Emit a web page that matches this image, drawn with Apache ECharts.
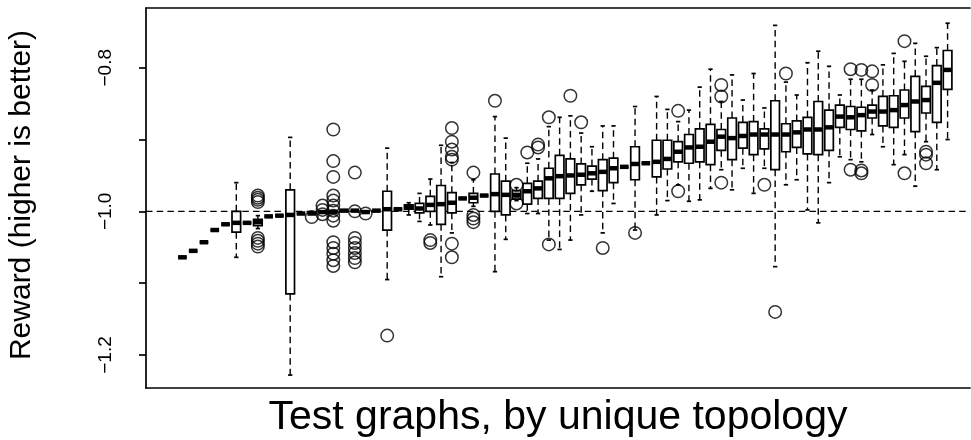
<!DOCTYPE html>
<html>
<head>
<meta charset="utf-8">
<script src="https://cdn.jsdelivr.net/npm/echarts@6/dist/echarts.min.js"></script>
<style>html,body{margin:0;padding:0;background:#fff}#c{width:971px;height:440px}</style>
</head>
<body>
<div id="c"></div>
<script>
// ---- data (one entry per test graph, ordered left to right) ----
const median = [-1.064,-1.055,-1.043,-1.026,-1.018,-1.016,-1.016,-1.015,-1.007,-1.006,
 -1.005,-1.003,-1.003,-1.001,-1.001,-0.999,-0.999,-1.001,-0.999,-0.997,
 -0.997,-0.994,-0.996,-0.991,-0.990,-0.988,-0.982,-0.981,-0.978,-0.976,
 -0.977,-0.977,-0.972,-0.968,-0.954,-0.951,-0.950,-0.949,-0.947,-0.945,
 -0.940,-0.938,-0.934,-0.933,-0.931,-0.927,-0.917,-0.911,-0.910,-0.903,
 -0.896,-0.898,-0.895,-0.893,-0.893,-0.893,-0.893,-0.890,-0.886,-0.886,
 -0.883,-0.868,-0.869,-0.866,-0.861,-0.861,-0.859,-0.852,-0.847,-0.845,
 -0.821,-0.803];
const q3 = [-1.064,-1.055,-1.043,-1.026,-1.018,-1.000,-1.016,-1.011,-1.007,-1.006,
 -0.970,-1.003,-1.003,-1.001,-1.001,-0.999,-0.999,-1.001,-0.999,-0.972,
 -0.997,-0.991,-0.989,-0.979,-0.964,-0.974,-0.982,-0.975,-0.978,-0.948,
 -0.958,-0.971,-0.961,-0.958,-0.940,-0.922,-0.927,-0.934,-0.937,-0.928,
 -0.926,-0.938,-0.910,-0.933,-0.901,-0.901,-0.903,-0.893,-0.885,-0.879,
 -0.886,-0.870,-0.876,-0.875,-0.885,-0.846,-0.878,-0.874,-0.869,-0.847,
 -0.859,-0.852,-0.854,-0.855,-0.852,-0.840,-0.839,-0.831,-0.812,-0.826,
 -0.797,-0.776];
const q1 = [-1.064,-1.055,-1.043,-1.026,-1.018,-1.029,-1.016,-1.020,-1.007,-1.006,
 -1.115,-1.003,-1.003,-1.001,-1.001,-0.999,-0.999,-1.001,-0.999,-1.026,
 -0.997,-0.997,-1.002,-1.000,-1.018,-1.002,-0.982,-0.988,-0.978,-1.000,
 -1.005,-0.983,-0.990,-0.982,-0.982,-0.982,-0.975,-0.963,-0.955,-0.971,
 -0.960,-0.938,-0.956,-0.933,-0.952,-0.941,-0.931,-0.933,-0.931,-0.935,
 -0.915,-0.928,-0.912,-0.921,-0.913,-0.942,-0.917,-0.911,-0.920,-0.921,
 -0.915,-0.883,-0.886,-0.888,-0.870,-0.881,-0.883,-0.870,-0.889,-0.863,
 -0.876,-0.830];
const highWhisker = [-1.064,-1.055,-1.043,-1.026,-1.018,-0.960,-1.016,-1.006,-1.007,-1.006,
 -0.897,-1.003,-1.003,-1.001,-1.001,-0.999,-0.999,-1.001,-0.999,-0.912,
 -0.997,-0.988,-0.975,-0.955,-0.908,-0.932,-0.982,-0.956,-0.978,-0.868,
 -0.898,-0.967,-0.933,-0.927,-0.882,-0.869,-0.867,-0.891,-0.910,-0.881,
 -0.881,-0.938,-0.854,-0.933,-0.840,-0.858,-0.875,-0.859,-0.827,-0.802,
 -0.847,-0.810,-0.845,-0.808,-0.856,-0.741,-0.820,-0.838,-0.793,-0.777,
 -0.798,-0.838,-0.816,-0.816,-0.831,-0.796,-0.780,-0.791,-0.766,-0.784,
 -0.772,-0.738];
const lowWhisker = [-1.064,-1.055,-1.043,-1.026,-1.018,-1.064,-1.016,-1.024,-1.007,-1.006,
 -1.228,-1.003,-1.003,-1.001,-1.001,-0.999,-0.999,-1.001,-0.999,-1.095,
 -0.997,-1.005,-1.014,-1.019,-1.091,-1.030,-0.982,-0.993,-0.978,-1.084,
 -1.039,-0.985,-1.003,-1.003,-1.040,-1.053,-1.040,-1.005,-0.972,-1.030,
 -0.989,-0.938,-1.026,-0.933,-1.005,-0.985,-0.963,-0.986,-0.984,-0.968,
 -0.942,-0.970,-0.940,-0.975,-0.940,-1.077,-0.963,-0.956,-0.998,-1.016,
 -0.960,-0.924,-0.928,-0.931,-0.893,-0.910,-0.935,-0.921,-0.965,-0.903,
 -0.942,-0.900];
// outliers: [graph number, reward]
const outliers = [
 [8,-0.978],[8,-0.981],[8,-0.984],[8,-0.987],[8,-1.037],[8,-1.041],[8,-1.045],[8,-1.049],
 [13,-1.008],
 [14,-0.992],[14,-0.998],[14,-1.004],
 [15,-0.886],[15,-0.930],[15,-0.952],[15,-0.978],[15,-0.985],[15,-0.992],[15,-0.999],[15,-1.006],
 [15,-1.013],[15,-1.043],[15,-1.051],[15,-1.059],[15,-1.068],[15,-1.076],
 [17,-0.946],[17,-1.000],[17,-1.037],[17,-1.044],[17,-1.051],[17,-1.058],[17,-1.065],[17,-1.071],
 [18,-1.003],
 [20,-1.173],
 [24,-1.040],[24,-1.044],
 [26,-0.884],[26,-0.903],[26,-0.914],[26,-0.924],[26,-0.928],[26,-1.045],[26,-1.064],
 [28,-0.946],[28,-1.005],[28,-1.010],[28,-1.015],
 [30,-0.846],
 [32,-0.963],[32,-0.989],
 [33,-0.918],
 [34,-0.907],[34,-0.911],
 [35,-0.869],[35,-1.046],
 [37,-0.839],
 [38,-0.876],
 [40,-1.051],
 [43,-1.030],
 [47,-0.860],[47,-0.972],
 [51,-0.824],[51,-0.840],[51,-0.960],
 [55,-0.963],
 [56,-1.140],
 [57,-0.808],
 [63,-0.802],[63,-0.942],
 [64,-0.803],[64,-0.943],[64,-0.947],
 [65,-0.805],[65,-0.824],
 [68,-0.763],[68,-0.947],
 [70,-0.917],[70,-0.921],[70,-0.933]
];
const referenceLevel = -1.0;
const yTickValues = [-1.2,-1.1,-1.0,-0.9,-0.8];
const yLabelValues = [-1.2,-1.0,-0.8];
const xTitle = 'Test graphs, by unique topology';
const yTitle = 'Reward (higher is better)';

// ---- build ----
const n = median.length;
const boxData = median.map((m, i) => [i + 1, lowWhisker[i], q1[i], m, q3[i], highWhisker[i]]);
// x range: R's boxplot range starts at 0.5 - 4%; the right side of the original figure is cropped
const xMin = 0.5 - 0.04 * n;
const xVisibleMax = 74.08;
const FONT = '"Liberation Sans", Arial, Helvetica, sans-serif';
const DASH = [6.5, 4.2];
const LW = 1.7;

function renderBox(params, api) {
  const x = api.value(0);
  const pL = api.coord([x, api.value(1)]);
  const p1 = api.coord([x, api.value(2)]);
  const pM = api.coord([x, api.value(3)]);
  const p3 = api.coord([x, api.value(4)]);
  const pH = api.coord([x, api.value(5)]);
  const bw = api.size([0.8, 0])[0];
  const cx = pM[0];
  const stroke = '#000';
  return {
    type: 'group',
    children: [
      { type: 'line', shape: { x1: cx, y1: p3[1], x2: cx, y2: pH[1] }, style: { stroke, lineWidth: 1.4, lineDash: DASH } },
      { type: 'line', shape: { x1: cx, y1: p1[1], x2: cx, y2: pL[1] }, style: { stroke, lineWidth: 1.4, lineDash: DASH } },
      { type: 'line', shape: { x1: cx - bw / 4, y1: pH[1], x2: cx + bw / 4, y2: pH[1] }, style: { stroke, lineWidth: LW } },
      { type: 'line', shape: { x1: cx - bw / 4, y1: pL[1], x2: cx + bw / 4, y2: pL[1] }, style: { stroke, lineWidth: LW } },
      { type: 'rect', shape: { x: cx - bw / 2, y: p3[1], width: bw, height: p1[1] - p3[1] }, style: { fill: '#fff', stroke, lineWidth: LW } },
      { type: 'line', shape: { x1: cx - bw / 2, y1: pM[1], x2: cx + bw / 2, y2: pM[1] }, style: { stroke, lineWidth: 4.5 } }
    ]
  };
}

const chart = echarts.init(document.getElementById('c'), null, { renderer: 'canvas' });
chart.setOption({
  animation: false,
  backgroundColor: '#fff',
  grid: { left: 146, right: 1, top: 8, bottom: 52, show: false },
  xAxis: [
    { type: 'value', min: xMin, max: xVisibleMax, position: 'bottom',
      axisLine: { show: true, onZero: false, lineStyle: { color: '#000', width: LW } },
      axisTick: { show: false }, axisLabel: { show: false }, splitLine: { show: false } },
    { type: 'value', min: xMin, max: xVisibleMax, position: 'top',
      axisLine: { show: true, onZero: false, lineStyle: { color: '#000', width: LW } },
      axisTick: { show: false }, axisLabel: { show: false }, splitLine: { show: false } }
  ],
  yAxis: {
    type: 'value', min: -1.246, max: -0.7168,
    axisLine: { show: true, onZero: false, lineStyle: { color: '#000', width: LW } },
    splitLine: { show: false },
    axisTick: { show: true, length: 7, customValues: yTickValues, lineStyle: { color: '#000', width: LW } },
    axisLabel: {
      customValues: yLabelValues, rotate: 90, margin: 31,
      color: '#000', fontSize: 19, fontFamily: FONT,
      formatter: v => v.toFixed(1).replace('-', '\u2212')
    }
  },
  series: [
    { type: 'line', data: [[xMin, referenceLevel], [xVisibleMax, referenceLevel]], symbol: 'none', silent: true, z: 1,
      lineStyle: { color: '#000', width: 1.4, type: DASH } },
    { type: 'custom', data: boxData, renderItem: renderBox, z: 2, encode: { x: 0, y: [1, 2, 3, 4, 5] } },
    { type: 'scatter', data: outliers, symbol: 'circle', symbolSize: 12.5, z: 3,
      itemStyle: { color: 'rgba(0,0,0,0)', borderColor: '#000', borderWidth: 1.5 } }
  ],
  graphic: [
    { type: 'text', x: 22, y: 195, rotation: Math.PI / 2,
      style: { text: yTitle, font: '30px ' + FONT, textAlign: 'center', textVerticalAlign: 'middle', fill: '#000' } },
    { type: 'text', x: 558, y: 418,
      style: { text: xTitle, font: '41px ' + FONT, textAlign: 'center', textVerticalAlign: 'middle', fill: '#000' } }
  ]
});
</script>
</body>
</html>
